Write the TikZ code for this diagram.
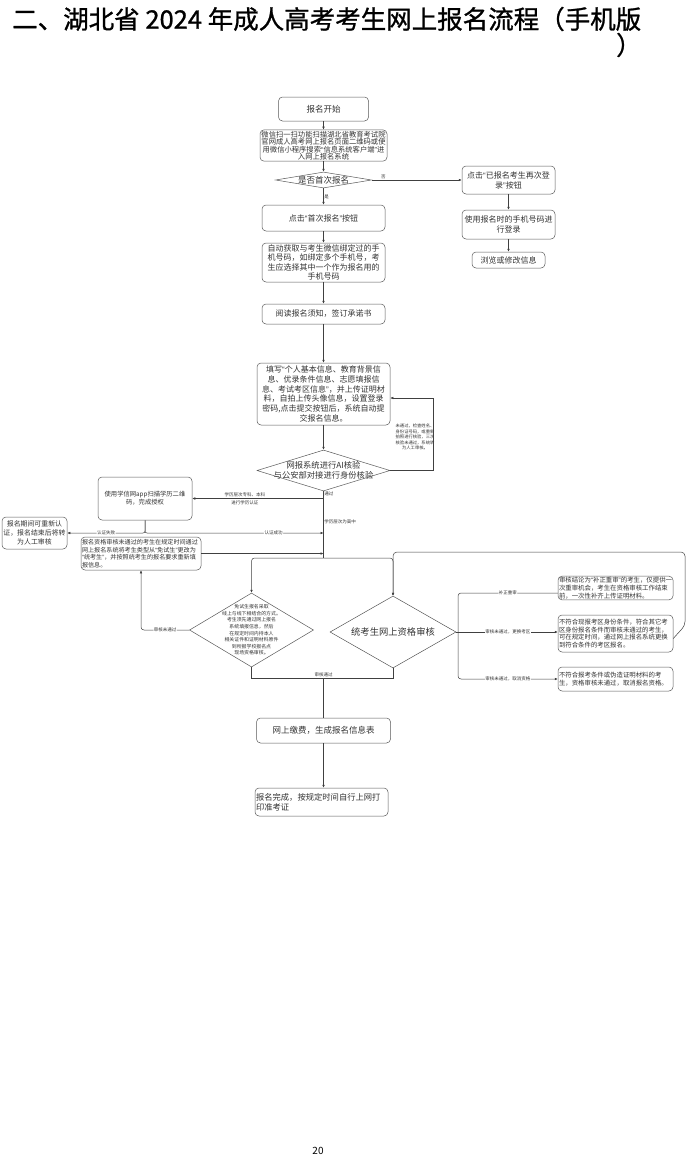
\documentclass[tikz,border=0pt]{standalone}
\usepackage{fontspec}
\setmainfont{Noto Sans CJK SC}
\newfontfamily\quotefont{Liberation Sans}
\newfontfamily\titlefont{Noto Sans CJK SC}[FakeBold=1]
\usepackage{tikz}
\usetikzlibrary{arrows.meta,shapes.geometric,calc}
\newcommand{\qopen}{{\quotefont “}}
\newcommand{\qclose}{{\quotefont ”}}

\begin{document}
\begin{tikzpicture}[
  x=1pt, y=-1pt,
  box/.style={draw=black!65, rounded corners=4pt, align=center, inner sep=1pt, text=black!80, line width=0.5pt},
  decision/.style={draw=black!65, diamond, inner sep=0pt, line width=0.5pt},
  wire/.style={-{Latex[length=3pt,width=2.6pt]}, draw=black!75, line width=0.5pt},
  link/.style={draw=black!75, line width=0.5pt},
  tag/.style={font=\fontsize{4.5}{5}\selectfont, text=black!80, inner sep=0.6pt, fill=white},
  note/.style={align=center, text=black!80, inner sep=0pt}
]
\fill[white] (0,0) rectangle (687,1160);
\useasboundingbox (0,0) rectangle (687,1160);

\node[anchor=west, inner sep=0pt, font=\titlefont\fontsize{25.5}{30}\selectfont] (title) at (12,19) {二、湖北省 2024 年成人高考考生网上报名流程（手机版};
\node[anchor=west, inner sep=0pt, font=\titlefont\fontsize{25.5}{30}\selectfont] (titleend) at (616,45) {）};

\node[box, minimum width=90pt, minimum height=24pt, font=\fontsize{8.5}{10}\selectfont] (start) at (323.5,109) {报名开始};
\node[box, minimum width=127pt, minimum height=31pt, font=\fontsize{7.3}{7.5}\selectfont] (scan) at (323.5,145.5) {微信扫一扫功能扫描湖北省教育考试院\\官网成人高考网上报名页面二维码或使\\用微信小程序搜索\qopen 信息系统客户端\qclose 进\\入网上报名系统};
\node[decision, minimum width=96pt, minimum height=16pt] (first) at (323.5,180) {};
\node[note, font=\fontsize{8.5}{10}\selectfont] (firsttext) at (first) {是否首次报名};

\node[box, minimum width=93pt, minimum height=28pt, font=\fontsize{8}{10}\selectfont] (again) at (508.5,180) {点击\qopen 已报名考生再次登\\录\qclose 按钮};
\node[box, minimum width=93pt, minimum height=29pt, font=\fontsize{8}{10}\selectfont] (login) at (508.5,224.5) {使用报名时的手机号码进\\行登录};
\node[box, minimum width=73pt, minimum height=16pt, font=\fontsize{8}{10}\selectfont] (browse) at (508.5,260) {浏览或修改信息};

\node[box, minimum width=123pt, minimum height=26pt, font=\fontsize{8}{10}\selectfont] (firstbtn) at (323.5,218) {点击\qopen 首次报名\qclose 按钮};
\node[box, minimum width=123pt, minimum height=39pt, font=\fontsize{8}{9.3}\selectfont] (phone) at (323.5,262.5) {自动获取与考生微信绑定过的手\\机号码，如绑定多个手机号，考\\生应选择其中一个作为报名用的\\手机号码};
\node[box, minimum width=123pt, minimum height=20pt, font=\fontsize{8}{10}\selectfont] (notice) at (323.5,314) {阅读报名须知，签订承诺书};
\node[box, minimum width=133pt, minimum height=62pt, font=\fontsize{8}{9.8}\selectfont] (fill) at (323.5,394) {填写\qopen 个人基本信息、教育背景信\\息、优录条件信息、志愿填报信\\息、考试考区信息\qclose ，并上传证明材\\料，自拍上传头像信息，设置登录\\密码,点击提交按钮后，系统自动提\\交报名信息。};

\node[decision, minimum width=133pt, minimum height=41pt] (ai) at (323.5,470.5) {};
\node[note, font=\fontsize{8.3}{10.5}\selectfont] (aitext) at (ai) {网报系统进行AI核验\\与公安部对接进行身份核验};
\node[note, font=\fontsize{4.3}{5.5}\selectfont] (retrynote) at (415,437) {未通过，检查姓名、\\身份证号码，或重新\\拍照进行核验，三次\\核验未通过，系统转\\为人工审核。};

\node[box, minimum width=94pt, minimum height=43pt, font=\fontsize{6.3}{8}\selectfont] (xuexin) at (145,498.5) {使用学信网app扫描学历二维\\码，完成授权};
\node[box, minimum width=65pt, minimum height=32pt, font=\fontsize{6.9}{9}\selectfont] (retry) at (34.5,533) {报名期间可重新认\\证，报名结束后将转\\为人工审核};
\node[box, minimum width=120pt, minimum height=33pt, text width=118pt, align=left, font=\fontsize{6.1}{7.6}\selectfont] (change) at (141,553.5) {报名资格审核未通过的考生在规定时间通过\\网上报名系统将考生类型从\qopen 免试生\qclose 更改为\\\qopen 统考生\qclose ，并按照统考生的报名要求重新填\\报信息。};

\node[decision, minimum width=124pt, minimum height=74pt] (exempt) at (251.5,630) {};
\node[note, font=\fontsize{4.9}{6.6}\selectfont] (exempttext) at (exempt) {免试生报名采取\\线上与线下相结合的方式。\\考生须先通过网上报名\\系统填报信息，然后\\在规定时间内持本人\\相关证件和证明材料原件\\到所报学校报名点\\现场资格审核。};
\node[decision, minimum width=126pt, minimum height=72pt] (unified) at (393,632) {};
\node[note, font=\fontsize{9.3}{11}\selectfont] (unifiedtext) at (unified) {统考生网上资格审核};

\node[box, minimum width=115pt, minimum height=23pt, text width=113pt, align=left, font=\fontsize{6.4}{7.8}\selectfont] (resubmit) at (615.5,588) {审核结论为\qopen 补正重审\qclose 的考生，仅提供一\\次重审机会，考生在资格审核工作结束\\前，一次性补齐上传证明材料。};
\node[box, minimum width=115pt, minimum height=37pt, text width=113pt, align=left, font=\fontsize{6.4}{7.7}\selectfont] (moved) at (615.5,633.5) {不符合现报考区身份条件，符合其它考\\区身份报名条件而审核未通过的考生，\\可在规定时间，通过网上报名系统更换\\到符合条件的考区报名。};
\node[box, minimum width=115pt, minimum height=24pt, text width=113pt, align=left, font=\fontsize{6.4}{7.8}\selectfont] (cancel) at (615.5,679) {不符合报考条件或伪造证明材料的考\\生，资格审核未通过，取消报名资格。};

\node[box, minimum width=134pt, minimum height=25pt, font=\fontsize{8.5}{10}\selectfont] (pay) at (323.5,730.5) {网上缴费，生成报名信息表};
\node[box, minimum width=133pt, minimum height=28pt, text width=131pt, align=left, font=\fontsize{8.3}{10}\selectfont] (done) at (321.5,802) {报名完成，按规定时间自行上网打\\印准考证};

\node[inner sep=0pt, font=\fontsize{10}{12}\selectfont] (pageno) at (318,1151) {20};

\coordinate (split) at (323.5,558);
\coordinate (merge) at (323.5,678);
\coordinate (fan) at (458,632);
\coordinate (back) at (685,552);
\coordinate (recheck) at (433,398);

\draw[wire] (start) -- (scan);
\draw[wire] (scan) -- (first);
\draw[wire] (first) -- node[tag, above, fill=none, pos=0.13]{否} (again);
\draw[wire] (first) -- node[tag, right, fill=none]{是} (firstbtn);
\draw[wire] (again) -- (login);
\draw[wire] (login) -- (browse);
\draw[wire] (firstbtn) -- (phone);
\draw[wire] (phone) -- (notice);
\draw[wire] (notice) -- (fill);
\draw[wire] (fill) -- (ai);
\draw[wire] (ai.east) -| (recheck) -- (fill.east |- recheck);

\draw[link] (ai) -- node[tag, fill=none, anchor=north west, pos=0]{通过} node[tag, fill=none, anchor=west, pos=0.46]{学历层次为高中} (split);
\draw[wire] (ai.south |- xuexin.east) -- node[note, pos=0.6, font=\fontsize{4.5}{8}\selectfont]{学历层次专科、本科\\进行学历认证} (xuexin.east);
\draw[wire, rounded corners=2pt] (xuexin.south) |- node[tag, pos=0.75]{认证失败} (retry.east);
\draw[wire, rounded corners=2pt] (xuexin.south) |- node[tag, pos=0.86]{认证成功} (ai.south |- retry.east);
\draw[wire] (change) -- (ai.south |- change.east);

\draw[wire, rounded corners=3pt] (split) -| (exempt.north);
\draw[wire, rounded corners=3pt] (split) -| (unified.north);
\draw[wire, rounded corners=3pt] (exempt.west) -| node[tag, pos=0.25]{审核未通过} (change.south);

\draw[link] (unified.east) -- (fan);
\draw[link, rounded corners=3pt] (fan) |- node[tag, pos=0.75]{补正重审} ([yshift=-5pt]resubmit.west);
\draw[wire] (fan) -- node[tag]{审核未通过，更换考区} (moved.west |- fan);
\draw[wire, rounded corners=3pt] (fan) |- node[tag, pos=0.75]{审核未通过，取消资格} (cancel.west);
\draw[wire, rounded corners=4pt] ([yshift=-5pt]moved.east) -- ([yshift=8pt]back |- moved.east) -- (back) -| (unified.north);

\draw[link] (exempt.south) |- (merge) -| (unified.south);
\node[tag, fill=none, above] (passtag) at (merge) {审核通过};
\draw[link] (merge) -- (pay);
\draw[wire] (pay) -- (pay.south |- done.north);

\end{tikzpicture}
\end{document}
